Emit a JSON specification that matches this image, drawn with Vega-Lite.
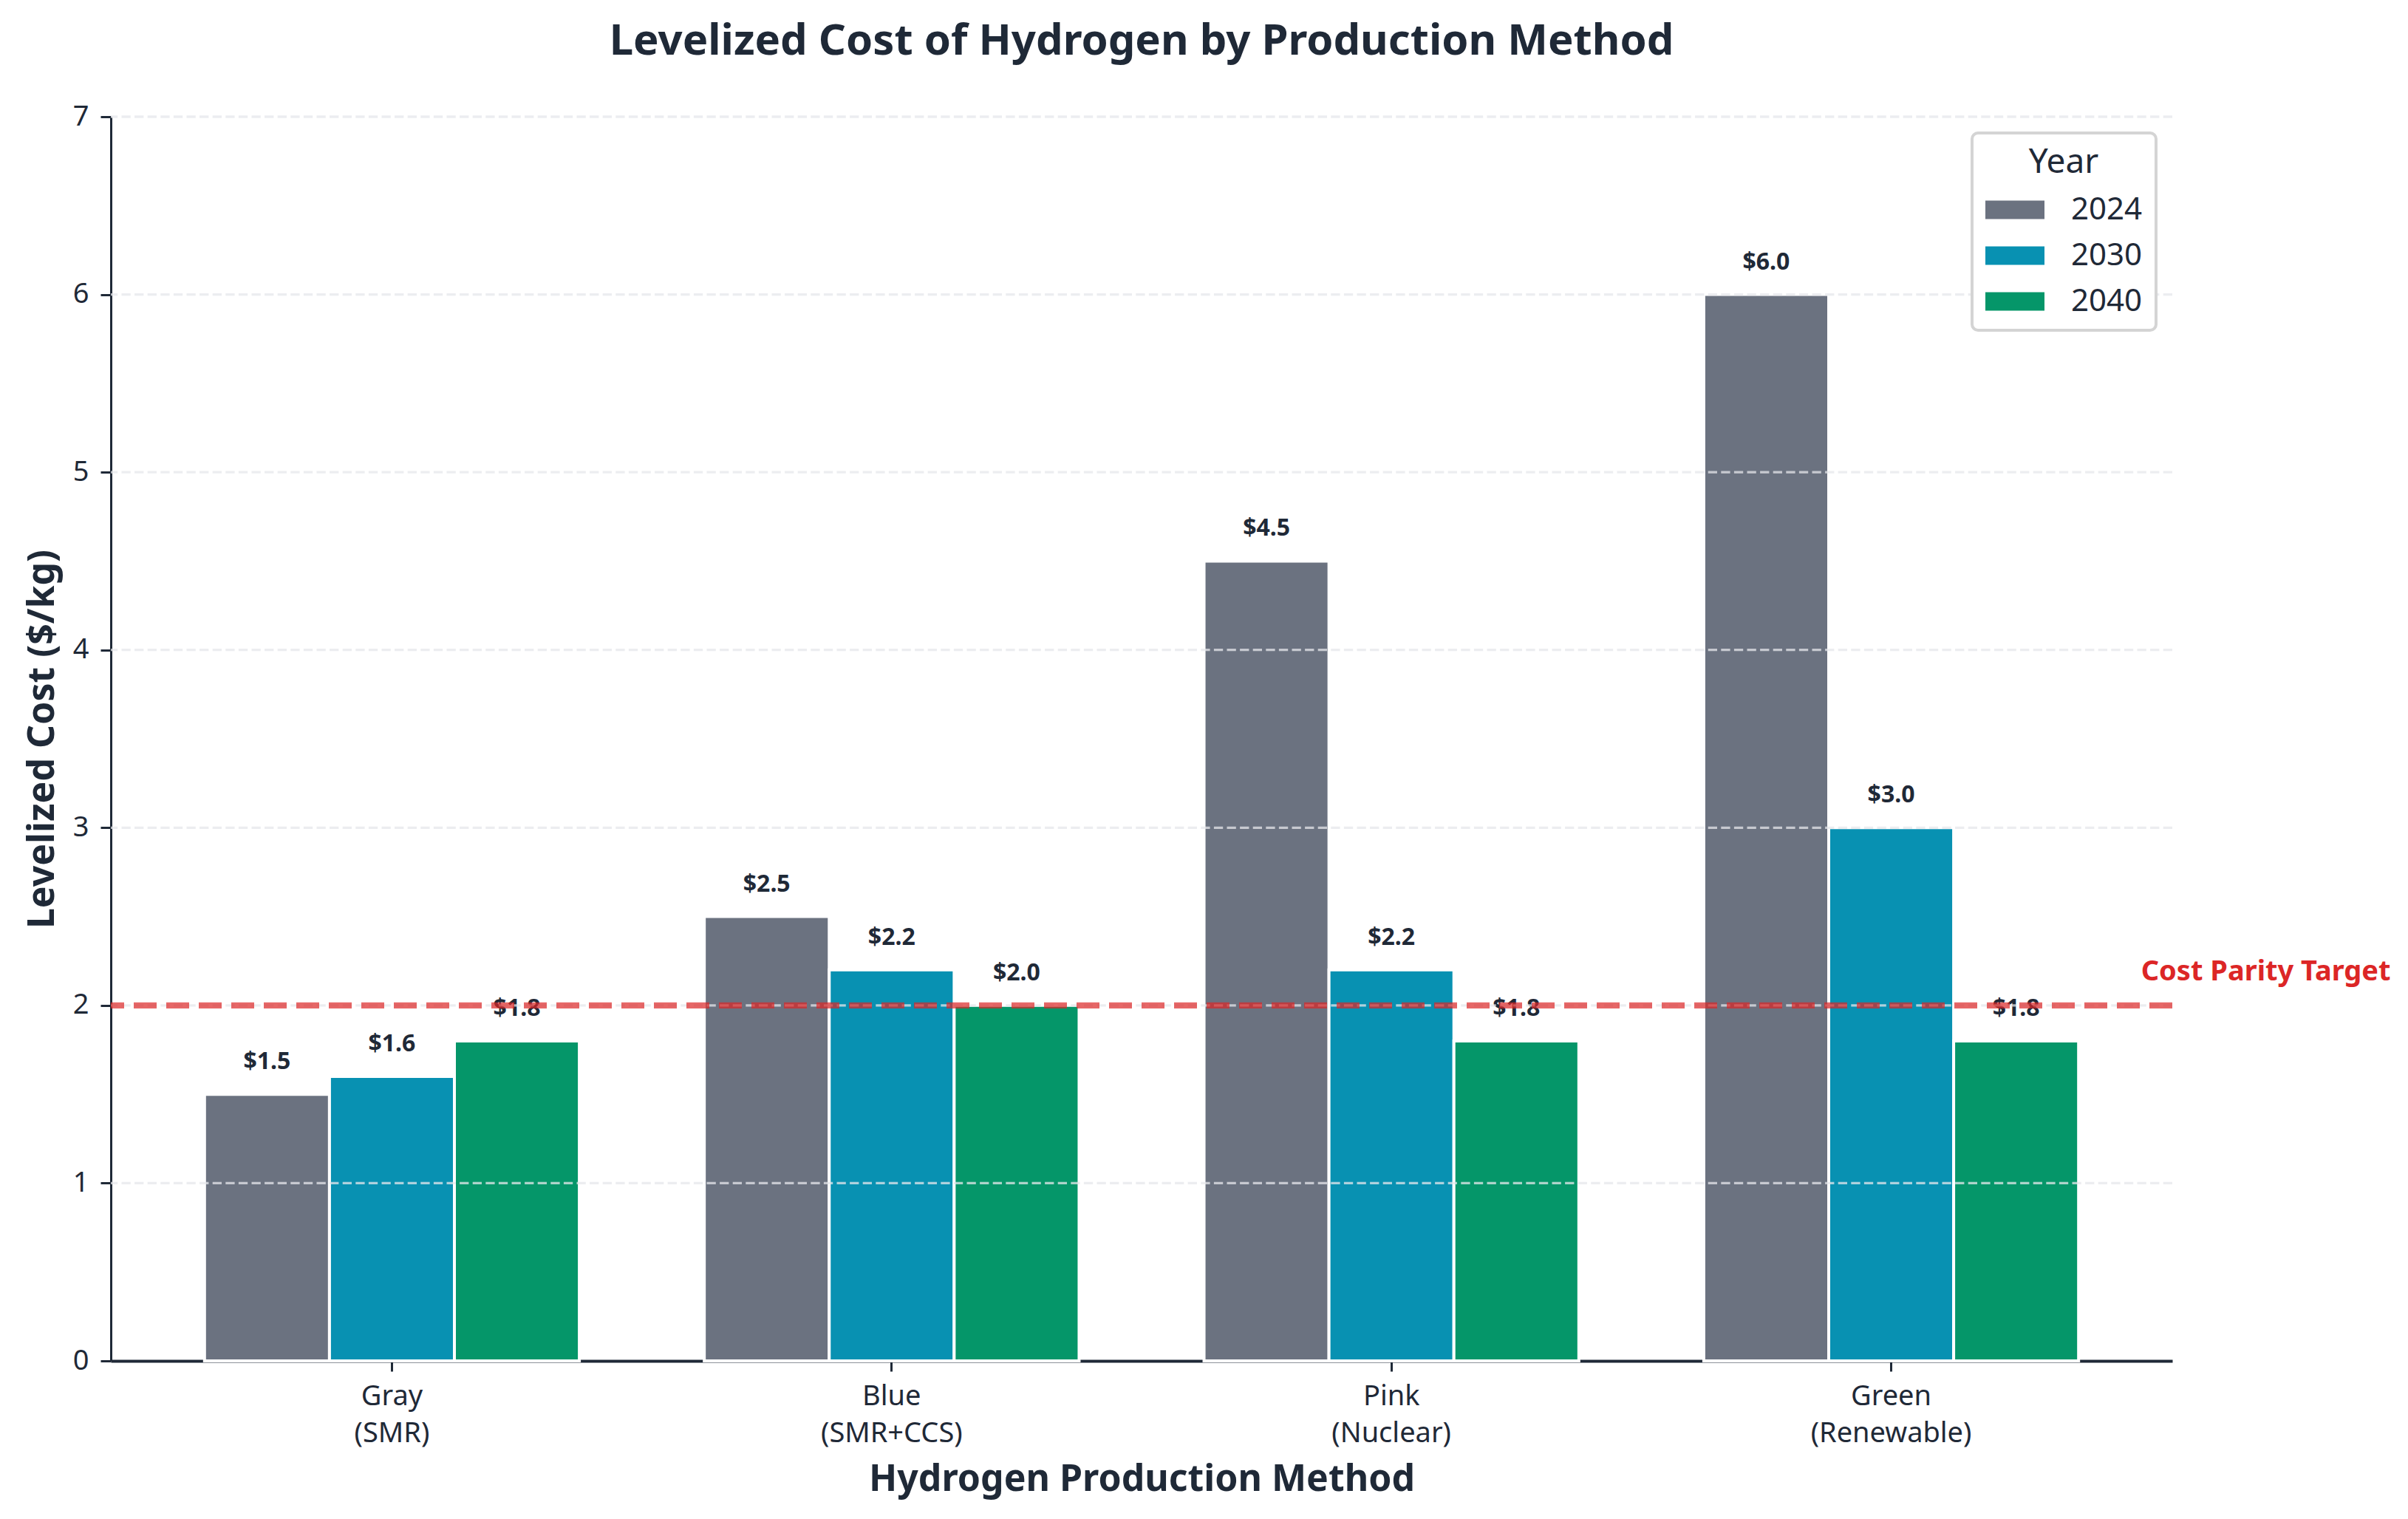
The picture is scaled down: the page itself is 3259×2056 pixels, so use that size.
{
  "$schema": "https://vega.github.io/schema/vega-lite/v6.json",
  "width": 2790,
  "height": 1684,
  "autosize": {"type": "none"},
  "padding": {"left": 150, "top": 158, "right": 319, "bottom": 214},
  "background": "#ffffff",
  "title": {
    "text": "Levelized Cost of Hydrogen by Production Method",
    "fontSize": 58,
    "fontWeight": "bold",
    "color": "#1f2937",
    "anchor": "middle",
    "frame": "group",
    "baseline": "alphabetic",
    "offset": 7
  },
  "config": {
    "font": "Noto Sans",
    "view": {"stroke": null},
    "axis": {
      "domainColor": "#1f2937",
      "tickColor": "#1f2937",
      "labelColor": "#1f2937",
      "titleColor": "#1f2937",
      "labelFont": "Noto Sans",
      "titleFont": "Noto Sans",
      "labelFontSize": 38,
      "titleFontSize": 50,
      "titleFontWeight": "bold",
      "tickSize": 14,
      "tickWidth": 3,
      "zindex": 1
    },
    "legend": {
      "orient": "top-right",
      "offset": 22,
      "padding": 18,
      "fillColor": "#ffffff",
      "strokeColor": "#d4d4d4",
      "strokeWidth": 4,
      "cornerRadius": 8,
      "titleFontSize": 46,
      "titleFontWeight": "normal",
      "titleColor": "#1f2937",
      "titleAnchor": "middle",
      "titlePadding": 0,
      "labelFontSize": 42,
      "labelColor": "#1f2937",
      "labelOffset": 36,
      "rowPadding": 1,
      "symbolType": "M-1,-0.31H1V0.31H-1Z",
      "symbolSize": 6400,
      "symbolStrokeWidth": 0,
      "zindex": 2
    }
  },
  "layer": [
    {
      "data": {
        "values": [
          {"method": "Gray\n(SMR)", "year": "2024", "cost": 1.5},
          {"method": "Gray\n(SMR)", "year": "2030", "cost": 1.6},
          {"method": "Gray\n(SMR)", "year": "2040", "cost": 1.8},
          {"method": "Blue\n(SMR+CCS)", "year": "2024", "cost": 2.5},
          {"method": "Blue\n(SMR+CCS)", "year": "2030", "cost": 2.2},
          {"method": "Blue\n(SMR+CCS)", "year": "2040", "cost": 2.0},
          {"method": "Pink\n(Nuclear)", "year": "2024", "cost": 4.5},
          {"method": "Pink\n(Nuclear)", "year": "2030", "cost": 2.2},
          {"method": "Pink\n(Nuclear)", "year": "2040", "cost": 1.8},
          {"method": "Green\n(Renewable)", "year": "2024", "cost": 6.0},
          {"method": "Green\n(Renewable)", "year": "2030", "cost": 3.0},
          {"method": "Green\n(Renewable)", "year": "2040", "cost": 1.8}
        ]
      },
      "encoding": {
        "x": {
          "field": "method",
          "type": "nominal",
          "sort": null,
          "title": "Hydrogen Production Method",
          "scale": {"paddingInner": 0.25, "paddingOuter": 0.1875},
          "axis": {
            "labelAngle": 0,
            "labelExpr": "split(datum.value, '\\n')",
            "labelLimit": 0,
            "labelLineHeight": 50,
            "labelPadding": 15,
            "titlePadding": 18,
            "domainWidth": 4,
            "grid": false
          }
        },
        "xOffset": {"field": "year", "type": "nominal", "sort": ["2024", "2030", "2040"]},
        "y": {
          "field": "cost",
          "type": "quantitative",
          "title": "Levelized Cost ($/kg)",
          "scale": {"domain": [0, 7], "nice": false},
          "axis": {
            "values": [0, 1, 2, 3, 4, 5, 6, 7],
            "format": "d",
            "labelPadding": 16,
            "titlePadding": 16,
            "domainWidth": 3,
            "grid": false
          }
        }
      },
      "layer": [
        {
          "mark": {"type": "bar", "stroke": "#ffffff", "strokeWidth": 4},
          "encoding": {
            "color": {
              "field": "year",
              "type": "nominal",
              "title": "Year",
              "scale": {"domain": ["2024", "2030", "2040"], "range": ["#6b7280", "#0891b2", "#059669"]}
            }
          }
        },
        {
          "mark": {"type": "text", "fontSize": 32, "fontWeight": "bold", "color": "#1f2937", "baseline": "alphabetic", "dy": -34},
          "encoding": {
            "text": {"field": "cost", "type": "quantitative", "format": "$.1f"}
          }
        }
      ]
    },
    {
      "data": {"values": [{"tick": 1}, {"tick": 2}, {"tick": 3}, {"tick": 4}, {"tick": 5}, {"tick": 6}, {"tick": 7}]},
      "mark": {"type": "rule", "color": "#e5e7eb", "opacity": 0.75, "strokeWidth": 3.3, "strokeDash": [12.3, 5.3]},
      "encoding": {
        "y": {"field": "tick", "type": "quantitative"}
      }
    },
    {
      "data": {"values": [{"target": 2, "pos": 3.5, "label": "Cost Parity Target"}]},
      "encoding": {
        "y": {"field": "target", "type": "quantitative"}
      },
      "layer": [
        {
          "mark": {"type": "rule", "color": "#dc2626", "opacity": 0.7, "strokeWidth": 8.3, "strokeDash": [31, 13]},
          "encoding": {}
        },
        {
          "mark": {"type": "text", "fontSize": 38, "fontWeight": "bold", "color": "#dc2626", "align": "left", "baseline": "alphabetic", "dy": -34},
          "encoding": {
            "x": {"field": "pos", "type": "quantitative", "scale": {"domain": [-0.5625, 3.5625], "nice": false, "zero": false}, "axis": null},
            "text": {"field": "label"}
          }
        }
      ]
    }
  ],
  "resolve": {"scale": {"x": "independent"}}
}
